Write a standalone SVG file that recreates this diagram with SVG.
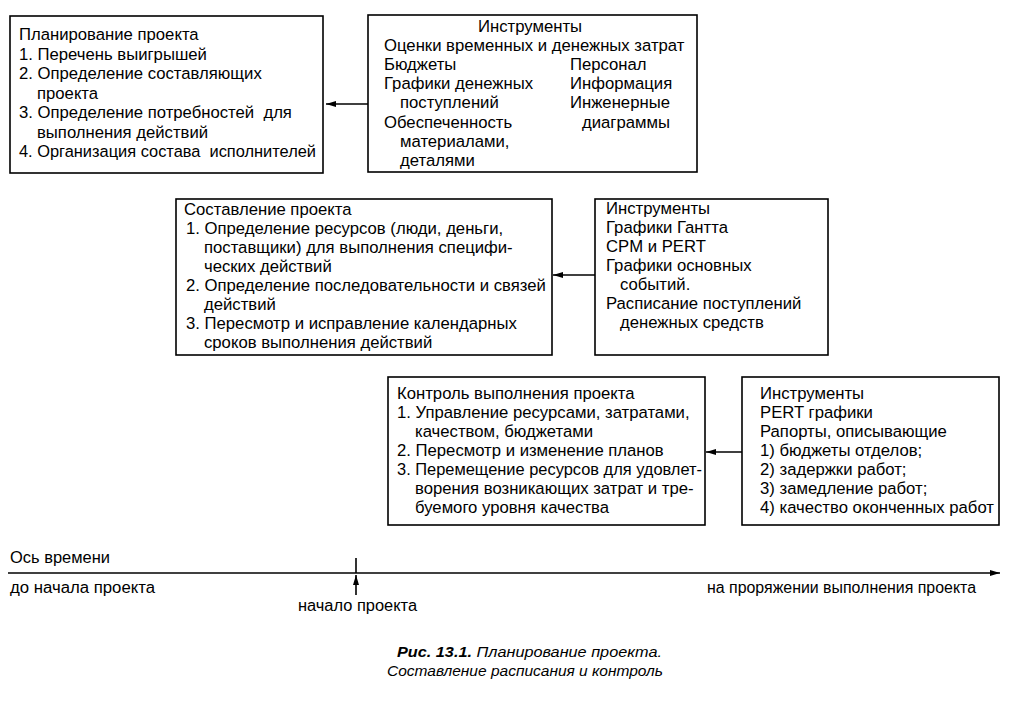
<svg xmlns="http://www.w3.org/2000/svg" width="1029" height="708" viewBox="0 0 1029 708">
<style>
.box{fill:#fff;stroke:#000;stroke-width:1.6}
text{font-family:"Liberation Sans",Arial,sans-serif;font-size:16.7px;fill:#000}
.axis{font-size:16px}
.cap{font-size:15.5px;font-style:italic}
.conn{stroke:#000;stroke-width:1.6;fill:none}
</style>
<defs>
<marker id="ah" viewBox="0 0 10 6" refX="10" refY="3" markerWidth="10" markerHeight="6" markerUnits="userSpaceOnUse" orient="auto">
<path d="M0,0 L10,3 L0,6 z" fill="#000"/>
</marker>
</defs>
<rect width="1029" height="708" fill="#fff"/>

<g id="plan">
<rect class="box" x="10" y="16" width="313" height="157"/>
<text x="19" y="40">Планирование проекта</text>
<text x="19" y="59.5">1. Перечень выигрышей</text>
<text x="19" y="79">2. Определение составляющих</text>
<text x="37" y="98.5">проекта</text>
<text x="19" y="118">3. Определение потребностей&#160; для</text>
<text x="37" y="137.5">выполнения действий</text>
<text x="19" y="157" textLength="297" lengthAdjust="spacingAndGlyphs">4. Организация состава&#160; исполнителей</text>
</g>

<g id="tools1">
<rect class="box" x="368" y="15" width="329" height="157"/>
<text x="530" y="32" text-anchor="middle">Инструменты</text>
<text x="384" y="51">Оценки временных и денежных затрат</text>
<text x="384" y="70">Бюджеты</text>
<text x="384" y="89">Графики денежных</text>
<text x="400" y="108">поступлений</text>
<text x="384" y="128">Обеспеченность</text>
<text x="400" y="147">материалами,</text>
<text x="400" y="166">деталями</text>
<text x="570" y="70">Персонал</text>
<text x="570" y="89">Информация</text>
<text x="570" y="108">Инженерные</text>
<text x="582" y="128">диаграммы</text>
</g>

<g id="schedule">
<rect class="box" x="176" y="199" width="376" height="156"/>
<text x="184" y="215">Составление проекта</text>
<text x="186" y="234">1. Определение ресурсов (люди, деньги,</text>
<text x="204" y="253">поставщики) для выполнения специфи-</text>
<text x="204" y="272">ческих действий</text>
<text x="186" y="291">2. Определение последовательности и связей</text>
<text x="204" y="310">действий</text>
<text x="186" y="329">3. Пересмотр и исправление календарных</text>
<text x="204" y="348">сроков выполнения действий</text>
</g>

<g id="tools2">
<rect class="box" x="595" y="199" width="233" height="156"/>
<text x="606" y="214">Инструменты</text>
<text x="606" y="233">Графики Гантта</text>
<text x="606" y="252">CPM и PERT</text>
<text x="606" y="271">Графики основных</text>
<text x="620" y="290">событий.</text>
<text x="606" y="309">Расписание поступлений</text>
<text x="620" y="328">денежных средств</text>
</g>

<g id="control">
<rect class="box" x="388" y="377" width="317" height="148"/>
<text x="397" y="399">Контроль выполнения проекта</text>
<text x="397" y="418">1. Управление ресурсами, затратами,</text>
<text x="415" y="437">качеством, бюджетами</text>
<text x="397" y="456">2. Пересмотр и изменение планов</text>
<text x="397" y="475" textLength="305" lengthAdjust="spacingAndGlyphs">3. Перемещение ресурсов для удовлет-</text>
<text x="415" y="494">ворения возникающих затрат и тре-</text>
<text x="415" y="513">буемого уровня качества</text>
</g>

<g id="tools3">
<rect class="box" x="742" y="377" width="257" height="148"/>
<text x="760" y="399">Инструменты</text>
<text x="760" y="418">PERT графики</text>
<text x="760" y="437">Рапорты, описывающие</text>
<text x="760" y="456">1) бюджеты отделов;</text>
<text x="760" y="475">2) задержки работ;</text>
<text x="760" y="494">3) замедление работ;</text>
<text x="760" y="513">4) качество оконченных работ</text>
</g>

<g id="connectors">
<line class="conn" x1="368" y1="104" x2="326" y2="104" marker-end="url(#ah)"/>
<line class="conn" x1="595" y1="275" x2="553" y2="275" marker-end="url(#ah)"/>
<line class="conn" x1="742" y1="452" x2="706" y2="452" marker-end="url(#ah)"/>
</g>

<g id="timeline">
<line class="conn" x1="8" y1="573" x2="1000" y2="573" stroke-width="1.3" marker-end="url(#ah)"/>
<line class="conn" x1="356" y1="558" x2="356" y2="573"/>
<line class="conn" x1="356" y1="595" x2="356" y2="575" marker-end="url(#ah)"/>
<text class="axis" x="10" y="563" textLength="100" lengthAdjust="spacingAndGlyphs">Ось времени</text>
<text class="axis" x="10" y="593" textLength="145" lengthAdjust="spacingAndGlyphs">до начала проекта</text>
<text class="axis" x="298" y="611" textLength="119" lengthAdjust="spacingAndGlyphs">начало проекта</text>
<text class="axis" x="707" y="593" textLength="269" lengthAdjust="spacingAndGlyphs">на проряжении выполнения проекта</text>
</g>

<g id="caption">
<text class="cap" x="397" y="657" textLength="265" lengthAdjust="spacingAndGlyphs"><tspan font-weight="bold">Рис. 13.1.</tspan> Планирование проекта.</text>
<text class="cap" x="387" y="676" textLength="276" lengthAdjust="spacingAndGlyphs">Составление расписания и контроль</text>
</g>
</svg>
